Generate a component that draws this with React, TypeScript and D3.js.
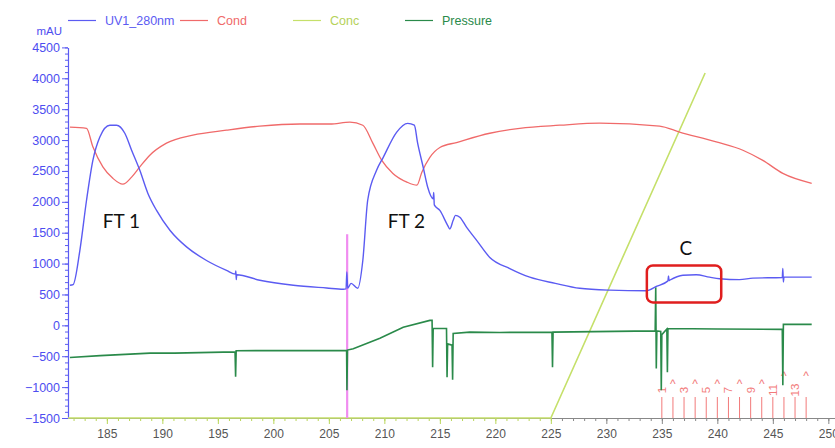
import React, { useRef, useEffect } from 'react';
import * as d3 from 'd3';

// UV1_280nm trace (time in min, mAU)
const uvTime = [
  181.67, 181.96, 182.57, 183.17, 183.74, 184.37, 185.27, 185.87, 186.62, 187.23,
  187.97, 188.69, 189.48, 190.68, 192.18, 193.98, 195.78, 196.58, 196.62, 196.66,
  196.7, 198.78, 201.8, 204.8, 206.3, 206.55, 206.62, 206.7, 207.0, 207.6,
  208.06, 208.5, 209.3, 209.9, 211.1, 212.1, 212.7, 213.0, 213.5, 213.9,
  214.4, 214.45, 214.5, 215.0, 215.7, 215.9, 216.2, 216.4, 216.8, 217.4,
  218.3, 219.5, 221.3, 223.1, 225.4, 227.6, 230.3, 233.6, 234.5, 235.55,
  235.6, 235.65, 235.7, 236.9, 238.1, 239.3, 240.2, 242.0, 243.2, 245.85,
  245.9, 245.95, 246.0, 248.5,
];
const uvValue = [
  650, 660, 1215, 2025, 2670, 3050, 3240, 3240, 3110, 2835,
  2510, 2140, 1860, 1540, 1270, 1050, 890, 830, 880, 740,
  820, 730, 650, 605, 585, 590, 865, 600, 680, 600,
  1050, 2025, 2510, 2720, 3125, 3270, 3240, 2950, 2560, 2240,
  2050, 2150, 1950, 1860, 1620, 1560, 1700, 1780, 1750, 1590,
  1380, 1100, 920, 780, 680, 600, 570, 560, 630, 720,
  800, 725, 730, 810, 820, 780, 755, 740, 765, 775,
  920, 700, 780, 780,
];

// Cond trace, read against the left axis
const condTime = [
  181.67, 183.17, 183.74, 184.64, 185.54, 186.44, 187.23, 187.97, 188.87, 190.37,
  192.75, 195.78, 198.78, 202.4, 205.1, 206.9, 208.06, 208.96, 209.77, 210.77,
  212.03, 212.93, 213.38, 214.1, 215.0, 216.5, 219.5, 222.2, 225.8, 229.4,
  234.8, 236.6, 239.9, 242.3, 244.1, 245.9, 248.5,
];
const condValue = [
  3210, 3190, 2890, 2565, 2380, 2285, 2400, 2565, 2755, 2950,
  3080, 3160, 3225, 3260, 3260, 3290, 3240, 2950, 2670, 2460,
  2320, 2270, 2480, 2720, 2880, 2960, 3110, 3190, 3240, 3275,
  3225, 3130, 2970, 2835, 2670, 2460, 2300,
];

// Pressure trace, read against the left axis
const pressureTime = [
  181.67, 184.4, 188.9, 191.1, 196.55, 196.6, 196.65, 206.6, 206.63, 206.68,
  207.2, 209.6, 211.7, 214.1, 214.3, 214.35, 214.4, 215.6, 215.65, 215.7,
  216.1, 216.15, 216.2, 217.7, 220.4, 225.1, 225.15, 225.2, 234.4, 234.45,
  234.5, 234.55, 234.9, 234.95, 235.0, 235.45, 235.5, 235.55, 240.0, 245.85,
  245.9, 245.95, 248.5,
];
const pressureValue = [
  -520, -490, -450, -450, -430, -830, -410, -405, -1050, -400,
  -380, -210, -30, 80, 80, -680, -50, -50, -840, -300,
  -320, -880, -130, -110, -115, -110, -680, -110, -90, 615,
  -700, -90, -100, -1050, -150, -60, -760, -50, -60, -65,
  -970, 15, 15,
];

// Conc gradient (%)
const concTime = [181.5, 225.0, 238.9];
const concValue = [0, 0, 100];

const yTicks = [-1500, -1000, -500, 0, 500, 1000, 1500, 2000, 2500, 3000, 3500, 4000, 4500];
const xTicks = [185, 190, 195, 200, 205, 210, 215, 220, 225, 230, 235, 240, 245, 250];

// fraction marks
const fractionTime = [235, 236, 237, 238, 239, 240, 241, 242, 243, 244, 245, 246, 247, 248];
const fractionLabel = ['1', '^', '3', '^', '5', '^', '7', '^', '9', '^', '11', '^', '13', '^'];

// injection mark
const injectTime = 206.65;
const injectTop = 1475;

// annotations
const noteText = ['FT 1', 'FT 2', 'C'];
const noteTime = [184.64, 210.3, 236.6];
const noteValue = [1570, 1570, 1135];

// highlight box around peak C
const boxTime = [233.65, 240.35];
const boxValue = [370, 970];

const legendNames = ['UV1_280nm', 'Cond', 'Conc', 'Pressure'];

const BLUE = '#5b5bf2';
const RED = '#f06a6a';
const CONC = '#c5e06a';
const GREEN = '#2a8a4a';

const App = () => {
  const svgRef = useRef<SVGSVGElement>(null);

  useEffect(() => {
    document.body.style.margin = '0';
    const svg = d3.select(svgRef.current);
    svg.selectAll('*').remove();

    const width = 835;
    const height = 448;
    const left = 68;
    const bottom = 418;

    const x = d3.scaleLinear().domain([181.5, 250.6]).range([left, width]);
    const y = d3.scaleLinear().domain([-1500, 4500]).range([bottom, 47.4]);
    const yConc = d3.scaleLinear().domain([0, 100]).range([bottom, 73]);

    svg.append('rect').attr('width', width).attr('height', height).attr('fill', '#fff');

    // ticks left of the gradient start take the Conc colour
    const tickColor = (d: any) => (d <= 225 ? '#b9d65a' : '#888');

    // X axis, minor then major
    svg.append('g')
      .attr('transform', `translate(0,${bottom})`)
      .call(d3.axisBottom(x).tickValues(d3.range(182, 251)).tickSize(3).tickFormat(() => ''))
      .call((g) => g.select('.domain').remove())
      .call((g) => g.selectAll('.tick line').attr('stroke', tickColor));

    const xg = svg.append('g')
      .attr('transform', `translate(0,${bottom})`)
      .call(d3.axisBottom(x).tickValues(xTicks).tickSize(6).tickPadding(5).tickSizeOuter(0).tickFormat(d3.format('d')));
    xg.select('.domain').attr('stroke', '#888');
    xg.selectAll('.tick line').attr('stroke', tickColor);
    xg.selectAll('text')
      .attr('fill', '#555')
      .style('font-family', 'Liberation Sans, Arial, sans-serif')
      .style('font-size', '12px');

    // Y axis, minor then major
    svg.append('g')
      .attr('transform', `translate(${left},0)`)
      .call(d3.axisLeft(y).tickValues(d3.range(-1500, 4501, 100)).tickSize(3).tickFormat(() => ''))
      .call((g) => g.select('.domain').remove())
      .call((g) => g.selectAll('line').attr('stroke', BLUE));

    const yg = svg.append('g')
      .attr('transform', `translate(${left},0)`)
      .call(d3.axisLeft(y).tickValues(yTicks).tickSize(6).tickPadding(2).tickSizeOuter(0).tickFormat(d3.format('d')));
    yg.select('.domain').attr('stroke', BLUE).attr('stroke-width', 1.2);
    yg.selectAll('line').attr('stroke', BLUE);
    yg.selectAll('text')
      .attr('fill', '#4d4df0')
      .style('font-family', 'Liberation Sans, Arial, sans-serif')
      .style('font-size', '12.5px');

    svg.append('text')
      .attr('x', 62).attr('y', 35)
      .attr('text-anchor', 'end')
      .attr('fill', '#4d4df0')
      .style('font-family', 'Liberation Sans, Arial, sans-serif')
      .style('font-size', '11.5px')
      .text('mAU');

    // legend
    const legendColors = [BLUE, RED, CONC, GREEN];
    const legendLineX = [68, 180, 293, 405];
    legendNames.forEach((name, i) => {
      svg.append('line')
        .attr('x1', legendLineX[i]).attr('x2', legendLineX[i] + 28)
        .attr('y1', 20.5).attr('y2', 20.5)
        .attr('stroke', legendColors[i]).attr('stroke-width', 1.2);
      svg.append('text')
        .attr('x', legendLineX[i] + 37).attr('y', 25)
        .attr('fill', legendColors[i] === CONC ? '#b5d25a' : legendColors[i])
        .style('font-family', 'Liberation Sans, Arial, sans-serif')
        .style('font-size', '12.5px')
        .text(name);
    });

    // fraction marks
    fractionTime.forEach((t, i) => {
      svg.append('line')
        .attr('x1', x(t)).attr('x2', x(t))
        .attr('y1', bottom - 21).attr('y2', bottom)
        .attr('stroke', '#f27a7a').attr('stroke-width', 1);
      const lab = fractionLabel[i];
      if (lab === '^') {
        const up = i >= 11 ? 8 : 0;
        svg.append('text')
          .attr('x', x(t)).attr('y', bottom - 30 - up)
          .attr('text-anchor', 'middle')
          .attr('fill', '#f27a7a')
          .style('font-family', 'Liberation Sans, Arial, sans-serif')
          .style('font-size', '12px')
          .text('^');
      } else {
        svg.append('text')
          .attr('transform', `translate(${x(t) + 4},${bottom - 28}) rotate(-90)`)
          .attr('text-anchor', 'middle')
          .attr('fill', '#f27a7a')
          .style('font-family', 'Liberation Sans, Arial, sans-serif')
          .style('font-size', '11.5px')
          .text(lab);
      }
    });

    const line = d3.line<[number, number]>().x((d) => x(d[0])).y((d) => y(d[1]));

    // conc gradient
    svg.append('path')
      .datum(concTime.map((t, i) => [t, concValue[i]] as [number, number]))
      .attr('fill', 'none')
      .attr('stroke', CONC)
      .attr('stroke-width', 1.6)
      .attr('d', d3.line<[number, number]>().x((d) => x(d[0])).y((d) => yConc(d[1])));

    // injection mark
    svg.append('line')
      .attr('x1', x(injectTime)).attr('x2', x(injectTime))
      .attr('y1', y(injectTop)).attr('y2', bottom)
      .attr('stroke', '#f08cf0').attr('stroke-width', 2.2);

    // pressure
    svg.append('path')
      .datum(pressureTime.map((t, i) => [t, pressureValue[i]] as [number, number]))
      .attr('fill', 'none')
      .attr('stroke', GREEN)
      .attr('stroke-width', 1.6)
      .attr('d', line);

    // cond
    svg.append('path')
      .datum(condTime.map((t, i) => [t, condValue[i]] as [number, number]))
      .attr('fill', 'none')
      .attr('stroke', RED)
      .attr('stroke-width', 1.3)
      .attr('d', line.curve(d3.curveMonotoneX));

    // UV
    svg.append('path')
      .datum(uvTime.map((t, i) => [t, uvValue[i]] as [number, number]))
      .attr('fill', 'none')
      .attr('stroke', BLUE)
      .attr('stroke-width', 1.4)
      .attr('d', d3.line<[number, number]>().x((d) => x(d[0])).y((d) => y(d[1])).curve(d3.curveMonotoneX));

    // annotations
    noteText.forEach((txt, i) => {
      svg.append('text')
        .attr('x', x(noteTime[i])).attr('y', y(noteValue[i]))
        .attr('fill', '#111')
        .style('font-family', 'Lato, Open Sans, sans-serif')
        .style('font-size', '19px')
        .text(txt);
    });

    svg.append('rect')
      .attr('x', x(boxTime[0])).attr('y', y(boxValue[1]))
      .attr('width', x(boxTime[1]) - x(boxTime[0]))
      .attr('height', y(boxValue[0]) - y(boxValue[1]))
      .attr('rx', 6)
      .attr('fill', 'none')
      .attr('stroke', '#e01e1e')
      .attr('stroke-width', 2.5);
  }, []);

  return <svg ref={svgRef} width={835} height={448} style={{ display: 'block' }} />;
};

export default App;
